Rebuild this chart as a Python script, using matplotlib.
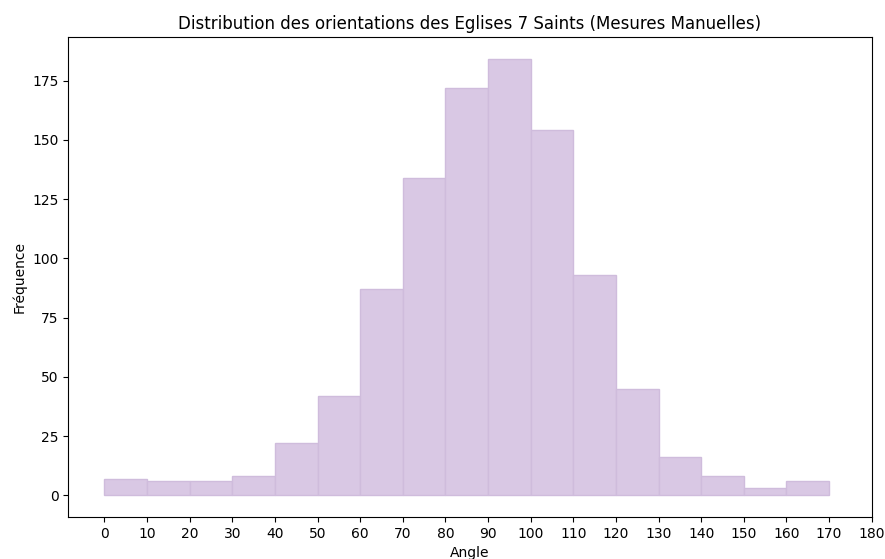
import numpy as np
import matplotlib.pyplot as plt


# bin edges (degrees) and counts
bin_edges = list(range(0, 180, 10))
counts = [7, 6, 6, 8, 22, 42, 87, 134, 172, 184, 154, 93, 45, 16, 8, 3, 6]
x_ticks = list(range(0, 190, 10))


def main():
    fig, ax = plt.subplots(figsize=(8.85, 5.59), dpi=100)

    left = bin_edges[:-1]
    widths = np.diff(bin_edges)
    ax.bar(left, counts, width=widths, align='edge',
           color='#d9c8e4', edgecolor='#cfbcdc', linewidth=1.0)

    # no sticky edge at 0 in the original, so pad both ends
    ax.use_sticky_edges = False
    ax.margins(x=0.05, y=0.05)
    ax.set_xticks(x_ticks)

    ax.set_title('Distribution des orientations des Eglises 7 Saints (Mesures Manuelles)')
    ax.set_xlabel('Angle')
    ax.set_ylabel('Fréquence')

    plt.subplots_adjust(left=0.077, right=0.985, top=0.933, bottom=0.075)
    plt.savefig('out.png')
    plt.close()


if __name__ == "__main__":
    main()
